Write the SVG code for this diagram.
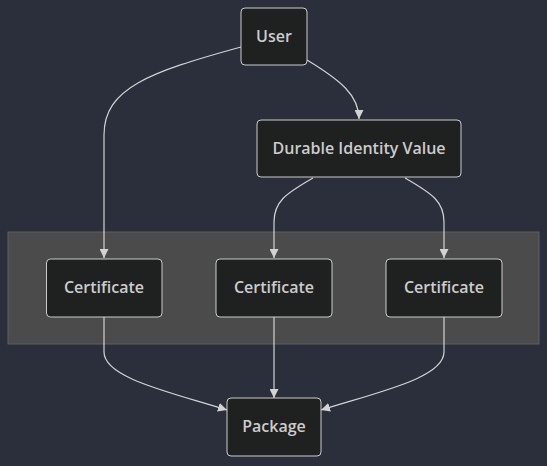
<svg xmlns="http://www.w3.org/2000/svg" width="547" height="466" viewBox="0 0 547 466">
<style>
.node rect{fill:#1f2020;stroke:#cccccc;stroke-width:1}
.node text{fill:#cccccc;font-family:"Open Sans","DejaVu Sans",sans-serif;font-size:16px;font-weight:600;text-anchor:middle;dominant-baseline:central}
.edge{fill:none;stroke:#d3d3d3;stroke-width:1.2;marker-end:url(#arr)}
</style>
<defs>
<marker id="arr" viewBox="0 0 10 10" refX="10" refY="5" markerWidth="9" markerHeight="9" markerUnits="userSpaceOnUse" orient="auto">
<path d="M0,0 L10,5 L0,10 z" fill="#d3d3d3"/>
</marker>
</defs>
<rect width="547" height="466" fill="#2a2f3b"/>
<g id="cluster">
<rect x="8" y="232" width="531" height="112" fill="#4a4b4a" stroke="#5e605e" stroke-width="1"/>
</g>
<g id="connectors">
<path class="edge" d="M241,47 C150,72 104,88 104,135 L104,258"/>
<path class="edge" d="M307,60 C340,80 359,95 359,119"/>
<path class="edge" d="M313,178 C285,194 274,202 274,222 L274,258"/>
<path class="edge" d="M405,178 C433,194 444,202 444,222 L444,258"/>
<path class="edge" d="M104,317 L104,352 C104,378 170,392 227,410"/>
<path class="edge" d="M274,317 L274,398"/>
<path class="edge" d="M444,317 L444,352 C444,378 378,392 321,410"/>
</g>
<g id="user" class="node"><rect x="241" y="8" width="66" height="57" rx="4"/><text x="274" y="35.5">User</text></g>
<g id="durable" class="node"><rect x="257" y="120" width="204" height="57" rx="4"/><text x="359" y="147.5">Durable Identity Value</text></g>
<g id="cert1" class="node"><rect x="46.5" y="259" width="115.5" height="58" rx="4"/><text x="104" y="286.5">Certificate</text></g>
<g id="cert2" class="node"><rect x="216" y="259" width="116" height="58" rx="4"/><text x="274" y="286.5">Certificate</text></g>
<g id="cert3" class="node"><rect x="386" y="259" width="116" height="58" rx="4"/><text x="444" y="286.5">Certificate</text></g>
<g id="package" class="node"><rect x="227" y="398" width="94" height="58" rx="4"/><text x="274" y="426">Package</text></g>
</svg>
